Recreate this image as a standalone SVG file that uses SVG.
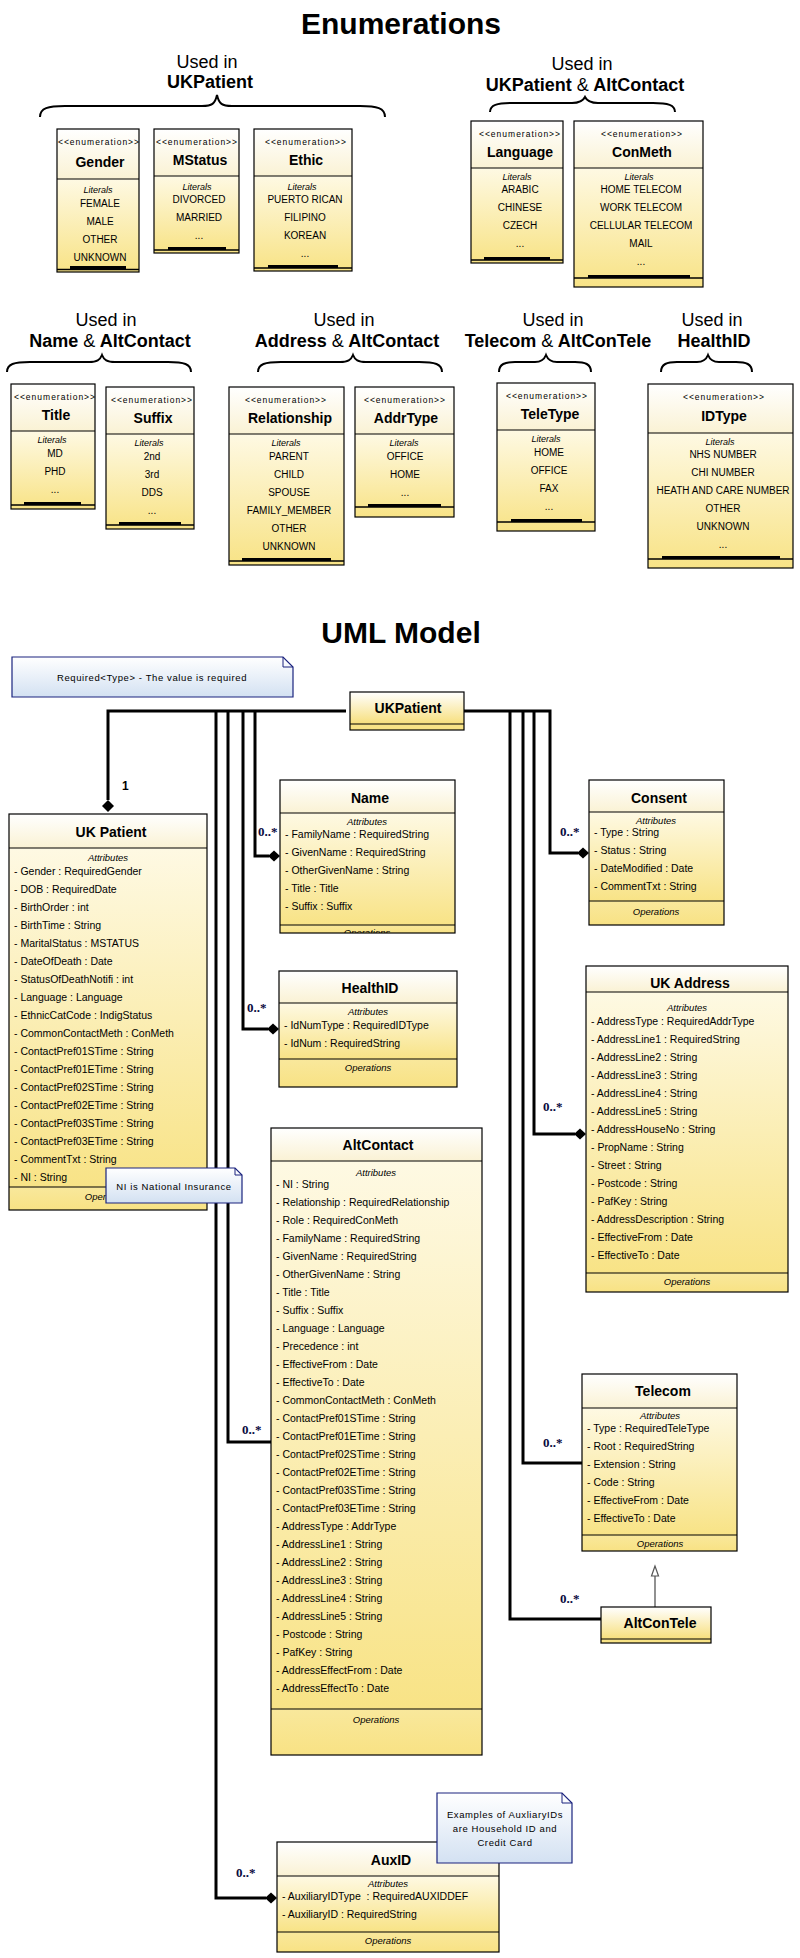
<svg xmlns="http://www.w3.org/2000/svg" width="800" height="1958" viewBox="0 0 800 1958">
<defs>
<linearGradient id="hdr" x1="0" y1="0" x2="0" y2="1"><stop offset="0" stop-color="#FFFFFF"/><stop offset="1" stop-color="#FAF2D4"/></linearGradient>
<linearGradient id="body" x1="0" y1="0" x2="0" y2="1"><stop offset="0" stop-color="#FEF9E3"/><stop offset="1" stop-color="#F8E386"/></linearGradient>
<linearGradient id="ops" x1="0" y1="0" x2="0" y2="1"><stop offset="0" stop-color="#F9E89C"/><stop offset="1" stop-color="#F8E284"/></linearGradient>
<linearGradient id="hdrY" x1="0" y1="0" x2="0" y2="1"><stop offset="0" stop-color="#FFFFFF"/><stop offset="1" stop-color="#F7DF7C"/></linearGradient>
<linearGradient id="note" x1="0" y1="0" x2="0" y2="1"><stop offset="0" stop-color="#FFFFFF"/><stop offset="1" stop-color="#D3E1F2"/></linearGradient>
<clipPath id="clipName"><rect x="280" y="780" width="175" height="153"/></clipPath>
<style>
.f{font-family:"Liberation Sans",Arial,sans-serif;fill:#000}
.ttl{font-size:30px;font-weight:bold;text-anchor:middle}
.used{font-size:18px;text-anchor:middle}
.usedb{font-size:18px;font-weight:bold;text-anchor:middle}
.brace{fill:none;stroke:#000;stroke-width:2}
.ol{fill:none;stroke:#000;stroke-width:1.2}
.sl{stroke:#000;stroke-width:1.2}
.ln{stroke:#000;stroke-width:1.5}
.st{font-size:8.5px;letter-spacing:1px;text-anchor:middle}
.en{font-size:14px;font-weight:bold;text-anchor:middle}
.lh{font-size:9px;font-style:italic;text-anchor:middle}
.li{font-size:10px;text-anchor:middle}
.cn{font-size:14px;font-weight:bold;text-anchor:middle}
.at{font-size:10.5px}
.cap{font-size:9.5px;font-style:italic;text-anchor:middle}
.conn{fill:none;stroke:#000;stroke-width:3}
.dia{fill:#000}
.mult{font-family:"Liberation Serif","Times New Roman",serif;font-weight:bold;font-size:13px;fill:#0a0a40}
.nt{fill:url(#note);stroke:#1a237e;stroke-width:1.2}
.ntx{font-size:9.5px;letter-spacing:0.6px;text-anchor:middle}
</style>
</defs>
<rect width="800" height="1958" fill="#FFFFFF"/>

<text class="f ttl" x="401" y="34">Enumerations</text>

<g id="labels">
<text class="f used" x="207" y="68">Used in</text>
<text class="f usedb" x="210" y="88">UKPatient</text>
<path class="brace" d="M40,117 C40,108 48,106 65,106 L202,106 C212,106 215,104 217,95 C219,104 222,106 232,106 L360,106 C377,106 385,108 385,117"/>
<text class="f used" x="582" y="70">Used in</text>
<text class="f usedb" x="585" y="91">UKPatient <tspan font-weight="normal">&amp;</tspan> AltContact</text>
<path class="brace" d="M490,112 C490,105 497,103 512,103 L572,103 C580,103 583,101 585,97 C587,101 590,103 598,103 L653,103 C668,103 675,105 675,112"/>
<text class="f used" x="106" y="326">Used in</text>
<text class="f usedb" x="110" y="347">Name <tspan font-weight="normal">&amp;</tspan> AltContact</text>
<path class="brace" d="M7,372 C7,364 14,362 30,362 L89,362 C97,362 100,360 102,355 C104,360 107,362 115,362 L168,362 C184,362 191,364 191,372"/>
<text class="f used" x="344" y="326">Used in</text>
<text class="f usedb" x="347" y="347">Address <tspan font-weight="normal">&amp;</tspan> AltContact</text>
<path class="brace" d="M258,372 C258,364 265,362 281,362 L340,362 C348,362 351,360 353,355 C355,360 358,362 366,362 L419,362 C435,362 442,364 442,372"/>
<text class="f used" x="553" y="326">Used in</text>
<text class="f usedb" x="558" y="347">Telecom <tspan font-weight="normal">&amp;</tspan> AltConTele</text>
<path class="brace" d="M499,372 C499,364 505,362 515,362 L535,362 C541,362 544,360 546,355 C548,360 551,362 557,362 L575,362 C585,362 591,364 591,372"/>
<text class="f used" x="712" y="326">Used in</text>
<text class="f usedb" x="714" y="347">HealthID</text>
<path class="brace" d="M661,372 C661,364 667,362 677,362 L697,362 C703,362 706,360 708,355 C710,360 713,362 719,362 L736,362 C746,362 752,364 752,372"/>
</g>

<g id="enum-gender">
<rect x="57" y="129" width="82" height="50" fill="url(#hdr)"/>
<rect x="57" y="179" width="82" height="93" fill="url(#body)"/>
<rect class="ol" x="57" y="129" width="82" height="143"/>
<line class="sl" x1="57" y1="179" x2="139" y2="179"/>
<rect x="70" y="266" width="56" height="3"/>
<line class="ln" x1="57" y1="269.5" x2="139" y2="269.5"/>
<text class="f st" x="99" y="145">&lt;&lt;enumeration&gt;&gt;</text>
<text class="f en" x="100" y="167">Gender</text>
<text class="f lh" x="98" y="193">Literals</text>
<text class="f li" x="100" y="207">FEMALE</text>
<text class="f li" x="100" y="225">MALE</text>
<text class="f li" x="100" y="243">OTHER</text>
<text class="f li" x="100" y="261">UNKNOWN</text>
</g>

<g id="enum-mstatus">
<rect x="154" y="129" width="85" height="47" fill="url(#hdr)"/>
<rect x="154" y="176" width="85" height="77" fill="url(#body)"/>
<rect class="ol" x="154" y="129" width="85" height="124"/>
<line class="sl" x1="154" y1="176" x2="239" y2="176"/>
<rect x="168" y="247" width="58" height="3"/>
<line class="ln" x1="154" y1="250" x2="239" y2="250"/>
<text class="f st" x="197" y="145">&lt;&lt;enumeration&gt;&gt;</text>
<text class="f en" x="200" y="165">MStatus</text>
<text class="f lh" x="197" y="190">Literals</text>
<text class="f li" x="199" y="203">DIVORCED</text>
<text class="f li" x="199" y="221">MARRIED</text>
<text class="f li" x="199" y="239">...</text>
</g>

<g id="enum-ethic">
<rect x="254" y="129" width="98" height="47" fill="url(#hdr)"/>
<rect x="254" y="176" width="98" height="95" fill="url(#body)"/>
<rect class="ol" x="254" y="129" width="98" height="142"/>
<line class="sl" x1="254" y1="176" x2="352" y2="176"/>
<rect x="268" y="265" width="70" height="3"/>
<line class="ln" x1="254" y1="268" x2="352" y2="268"/>
<text class="f st" x="306" y="145">&lt;&lt;enumeration&gt;&gt;</text>
<text class="f en" x="306" y="165">Ethic</text>
<text class="f lh" x="302" y="190">Literals</text>
<text class="f li" x="305" y="203">PUERTO RICAN</text>
<text class="f li" x="305" y="221">FILIPINO</text>
<text class="f li" x="305" y="239">KOREAN</text>
<text class="f li" x="305" y="257">...</text>
</g>

<g id="enum-language">
<rect x="471" y="121" width="92" height="47" fill="url(#hdr)"/>
<rect x="471" y="168" width="92" height="95" fill="url(#body)"/>
<rect class="ol" x="471" y="121" width="92" height="142"/>
<line class="sl" x1="471" y1="168" x2="563" y2="168"/>
<rect x="484" y="257" width="66" height="3"/>
<line class="ln" x1="471" y1="260" x2="563" y2="260"/>
<text class="f st" x="520" y="137">&lt;&lt;enumeration&gt;&gt;</text>
<text class="f en" x="520" y="157">Language</text>
<text class="f lh" x="517" y="180">Literals</text>
<text class="f li" x="520" y="193">ARABIC</text>
<text class="f li" x="520" y="211">CHINESE</text>
<text class="f li" x="520" y="229">CZECH</text>
<text class="f li" x="520" y="247">...</text>
</g>

<g id="enum-conmeth">
<rect x="574" y="121" width="129" height="47" fill="url(#hdr)"/>
<rect x="574" y="168" width="129" height="119" fill="url(#body)"/>
<rect class="ol" x="574" y="121" width="129" height="166"/>
<line class="sl" x1="574" y1="168" x2="703" y2="168"/>
<rect x="588" y="275" width="102" height="3"/>
<line class="ln" x1="574" y1="278" x2="703" y2="278"/>
<text class="f st" x="642" y="137">&lt;&lt;enumeration&gt;&gt;</text>
<text class="f en" x="642" y="157">ConMeth</text>
<text class="f lh" x="639" y="180">Literals</text>
<text class="f li" x="641" y="193">HOME TELECOM</text>
<text class="f li" x="641" y="211">WORK TELECOM</text>
<text class="f li" x="641" y="229">CELLULAR TELECOM</text>
<text class="f li" x="641" y="247">MAIL</text>
<text class="f li" x="641" y="265">...</text>
</g>

<g id="enum-title">
<rect x="11" y="384" width="84" height="47" fill="url(#hdr)"/>
<rect x="11" y="431" width="84" height="78" fill="url(#body)"/>
<rect class="ol" x="11" y="384" width="84" height="125"/>
<line class="sl" x1="11" y1="431" x2="95" y2="431"/>
<rect x="24" y="502" width="57" height="3"/>
<line class="ln" x1="11" y1="505" x2="95" y2="505"/>
<text class="f st" x="55" y="400">&lt;&lt;enumeration&gt;&gt;</text>
<text class="f en" x="56" y="420">Title</text>
<text class="f lh" x="52" y="443">Literals</text>
<text class="f li" x="55" y="457">MD</text>
<text class="f li" x="55" y="475">PHD</text>
<text class="f li" x="55" y="493">...</text>
</g>

<g id="enum-suffix">
<rect x="106" y="387" width="88" height="47" fill="url(#hdr)"/>
<rect x="106" y="434" width="88" height="95" fill="url(#body)"/>
<rect class="ol" x="106" y="387" width="88" height="142"/>
<line class="sl" x1="106" y1="434" x2="194" y2="434"/>
<rect x="119" y="522" width="62" height="3"/>
<line class="ln" x1="106" y1="525" x2="194" y2="525"/>
<text class="f st" x="152" y="403">&lt;&lt;enumeration&gt;&gt;</text>
<text class="f en" x="153" y="423">Suffix</text>
<text class="f lh" x="149" y="446">Literals</text>
<text class="f li" x="152" y="460">2nd</text>
<text class="f li" x="152" y="478">3rd</text>
<text class="f li" x="152" y="496">DDS</text>
<text class="f li" x="152" y="514">...</text>
</g>

<g id="enum-relationship">
<rect x="229" y="387" width="115" height="47" fill="url(#hdr)"/>
<rect x="229" y="434" width="115" height="131" fill="url(#body)"/>
<rect class="ol" x="229" y="387" width="115" height="178"/>
<line class="sl" x1="229" y1="434" x2="344" y2="434"/>
<rect x="242" y="558" width="89" height="3"/>
<line class="ln" x1="229" y1="561" x2="344" y2="561"/>
<text class="f st" x="286" y="403">&lt;&lt;enumeration&gt;&gt;</text>
<text class="f en" x="290" y="423">Relationship</text>
<text class="f lh" x="286" y="446">Literals</text>
<text class="f li" x="289" y="460">PARENT</text>
<text class="f li" x="289" y="478">CHILD</text>
<text class="f li" x="289" y="496">SPOUSE</text>
<text class="f li" x="289" y="514">FAMILY_MEMBER</text>
<text class="f li" x="289" y="532">OTHER</text>
<text class="f li" x="289" y="550">UNKNOWN</text>
</g>

<g id="enum-addrtype">
<rect x="355" y="387" width="99" height="47" fill="url(#hdr)"/>
<rect x="355" y="434" width="99" height="83" fill="url(#body)"/>
<rect class="ol" x="355" y="387" width="99" height="130"/>
<line class="sl" x1="355" y1="434" x2="454" y2="434"/>
<rect x="368" y="504" width="73" height="3"/>
<line class="ln" x1="355" y1="507" x2="454" y2="507"/>
<text class="f st" x="405" y="403">&lt;&lt;enumeration&gt;&gt;</text>
<text class="f en" x="406" y="423">AddrType</text>
<text class="f lh" x="404" y="446">Literals</text>
<text class="f li" x="405" y="460">OFFICE</text>
<text class="f li" x="405" y="478">HOME</text>
<text class="f li" x="405" y="496">...</text>
</g>

<g id="enum-teletype">
<rect x="497" y="383" width="98" height="47" fill="url(#hdr)"/>
<rect x="497" y="430" width="98" height="101" fill="url(#body)"/>
<rect class="ol" x="497" y="383" width="98" height="148"/>
<line class="sl" x1="497" y1="430" x2="595" y2="430"/>
<rect x="511" y="519" width="71" height="3"/>
<line class="ln" x1="497" y1="522" x2="595" y2="522"/>
<text class="f st" x="547" y="399">&lt;&lt;enumeration&gt;&gt;</text>
<text class="f en" x="550" y="419">TeleType</text>
<text class="f lh" x="546" y="442">Literals</text>
<text class="f li" x="549" y="456">HOME</text>
<text class="f li" x="549" y="474">OFFICE</text>
<text class="f li" x="549" y="492">FAX</text>
<text class="f li" x="549" y="510">...</text>
</g>

<g id="enum-idtype">
<rect x="648" y="384" width="145" height="49" fill="url(#hdr)"/>
<rect x="648" y="433" width="145" height="135" fill="url(#body)"/>
<rect class="ol" x="648" y="384" width="145" height="184"/>
<line class="sl" x1="648" y1="433" x2="793" y2="433"/>
<rect x="662" y="556" width="118" height="3"/>
<line class="ln" x1="648" y1="559" x2="793" y2="559"/>
<text class="f st" x="724" y="400">&lt;&lt;enumeration&gt;&gt;</text>
<text class="f en" x="724" y="421">IDType</text>
<text class="f lh" x="720" y="445">Literals</text>
<text class="f li" x="723" y="458">NHS NUMBER</text>
<text class="f li" x="723" y="476">CHI NUMBER</text>
<text class="f li" x="723" y="494">HEATH AND CARE NUMBER</text>
<text class="f li" x="723" y="512">OTHER</text>
<text class="f li" x="723" y="530">UNKNOWN</text>
<text class="f li" x="723" y="548">...</text>
</g>

<text class="f ttl" x="401" y="643">UML Model</text>

<g id="note-required">
<path class="nt" d="M12,657 H283 L293,667 V697 H12 Z"/>
<path d="M283,657 V667 H293" fill="none" stroke="#1a237e" stroke-width="1"/>
<text class="f ntx" x="152" y="681">Required&lt;Type&gt; - The value is required</text>
</g>

<g id="connectors">
<path class="conn" d="M346,711 H108 V800"/>
<path class="conn" d="M216,711 V1898 H266"/>
<path class="conn" d="M228,711 V1442 H271"/>
<path class="conn" d="M243,711 V1029 H268"/>
<path class="conn" d="M255,711 V856 H269"/>
<path class="conn" d="M464,711 H550 V853 H578"/>
<path class="conn" d="M534,711 V1134 H575"/>
<path class="conn" d="M523,711 V1463 H582"/>
<path class="conn" d="M510,711 V1619 H601"/>
<polygon class="dia" points="108,812 114,806 108,800 102,806"/>
<polygon class="dia" points="280,856 274,850.5 268,856 274,861.5"/>
<polygon class="dia" points="279,1029 273,1023.5 267,1029 273,1034.5"/>
<polygon class="dia" points="589,853 583,847.5 577,853 583,858.5"/>
<polygon class="dia" points="586,1134 580,1128.5 574,1134 580,1139.5"/>
<polygon class="dia" points="277,1898 271,1892.5 265,1898 271,1903.5"/>
<path d="M655,1607 V1576" fill="none" stroke="#555" stroke-width="1.3"/>
<polygon points="655,1566 651.5,1576 658.5,1576" fill="#FFFFFF" stroke="#555" stroke-width="1.2"/>
<text class="f" x="122" y="790" font-size="12" font-weight="bold" fill="#0a0a40">1</text>
<text class="mult" x="258" y="836">0..*</text>
<text class="mult" x="560" y="836">0..*</text>
<text class="mult" x="247" y="1012">0..*</text>
<text class="mult" x="543" y="1111">0..*</text>
<text class="mult" x="242" y="1434">0..*</text>
<text class="mult" x="543" y="1447">0..*</text>
<text class="mult" x="560" y="1603">0..*</text>
<text class="mult" x="236" y="1877">0..*</text>
</g>

<g id="class-ukpatient-ref">
<rect x="350" y="692" width="114" height="32" fill="url(#hdrY)"/>
<rect x="350" y="724" width="114" height="6" fill="#F8E386"/>
<rect class="ol" x="350" y="692" width="114" height="38"/>
<line class="sl" x1="350" y1="724" x2="464" y2="724"/>
<text class="f cn" x="408" y="713">UKPatient</text>
</g>

<g id="class-ukpatient">
<rect x="9" y="814" width="198" height="34" fill="url(#hdr)"/>
<rect x="9" y="848" width="198" height="339" fill="url(#body)"/>
<rect x="9" y="1187" width="198" height="23" fill="url(#ops)"/>
<rect class="ol" x="9" y="814" width="198" height="396"/>
<line class="sl" x1="9" y1="848" x2="207" y2="848"/>
<line class="sl" x1="9" y1="1187" x2="207" y2="1187"/>
<text class="f cn" x="111" y="837">UK Patient</text>
<text class="f cap" x="108" y="861">Attributes</text>
<text class="f at" x="14" y="875"><tspan x="14" dy="0">- Gender : RequiredGender</tspan><tspan x="14" dy="18">- DOB : RequiredDate</tspan><tspan x="14" dy="18">- BirthOrder : int</tspan><tspan x="14" dy="18">- BirthTime : String</tspan><tspan x="14" dy="18">- MaritalStatus : MSTATUS</tspan><tspan x="14" dy="18">- DateOfDeath : Date</tspan><tspan x="14" dy="18">- StatusOfDeathNotifi : int</tspan><tspan x="14" dy="18">- Language : Language</tspan><tspan x="14" dy="18">- EthnicCatCode : IndigStatus</tspan><tspan x="14" dy="18">- CommonContactMeth : ConMeth</tspan><tspan x="14" dy="18">- ContactPref01STime : String</tspan><tspan x="14" dy="18">- ContactPref01ETime : String</tspan><tspan x="14" dy="18">- ContactPref02STime : String</tspan><tspan x="14" dy="18">- ContactPref02ETime : String</tspan><tspan x="14" dy="18">- ContactPref03STime : String</tspan><tspan x="14" dy="18">- ContactPref03ETime : String</tspan><tspan x="14" dy="18">- CommentTxt : String</tspan><tspan x="14" dy="18">- NI : String</tspan></text>
<text class="f cap" x="108" y="1200">Operations</text>
</g>

<g id="class-name">
<rect x="280" y="780" width="175" height="33" fill="url(#hdr)"/>
<rect x="280" y="813" width="175" height="112" fill="url(#body)"/>
<rect x="280" y="925" width="175" height="8" fill="url(#ops)"/>
<rect class="ol" x="280" y="780" width="175" height="153"/>
<line class="sl" x1="280" y1="813" x2="455" y2="813"/>
<line class="sl" x1="280" y1="925" x2="455" y2="925"/>
<text class="f cn" x="370" y="803">Name</text>
<text class="f cap" x="367" y="825">Attributes</text>
<text class="f at" x="285" y="838"><tspan x="285" dy="0">- FamilyName : RequiredString</tspan><tspan x="285" dy="18">- GivenName : RequiredString</tspan><tspan x="285" dy="18">- OtherGivenName : String</tspan><tspan x="285" dy="18">- Title : Title</tspan><tspan x="285" dy="18">- Suffix : Suffix</tspan></text>
<text class="f cap" x="367" y="936" clip-path="url(#clipName)">Operations</text>
</g>

<g id="class-consent">
<rect x="589" y="780" width="135" height="32" fill="url(#hdr)"/>
<rect x="589" y="812" width="135" height="89" fill="url(#body)"/>
<rect x="589" y="901" width="135" height="24" fill="url(#ops)"/>
<rect class="ol" x="589" y="780" width="135" height="145"/>
<line class="sl" x1="589" y1="812" x2="724" y2="812"/>
<line class="sl" x1="589" y1="901" x2="724" y2="901"/>
<text class="f cn" x="659" y="803">Consent</text>
<text class="f cap" x="656" y="824">Attributes</text>
<text class="f at" x="594" y="836"><tspan x="594" dy="0">- Type : String</tspan><tspan x="594" dy="18">- Status : String</tspan><tspan x="594" dy="18">- DateModified : Date</tspan><tspan x="594" dy="18">- CommentTxt : String</tspan></text>
<text class="f cap" x="656" y="915">Operations</text>
</g>

<g id="class-healthid">
<rect x="279" y="971" width="178" height="32" fill="url(#hdr)"/>
<rect x="279" y="1003" width="178" height="56" fill="url(#body)"/>
<rect x="279" y="1059" width="178" height="28" fill="url(#ops)"/>
<rect class="ol" x="279" y="971" width="178" height="116"/>
<line class="sl" x1="279" y1="1003" x2="457" y2="1003"/>
<line class="sl" x1="279" y1="1059" x2="457" y2="1059"/>
<text class="f cn" x="370" y="993">HealthID</text>
<text class="f cap" x="368" y="1015">Attributes</text>
<text class="f at" x="284" y="1029"><tspan x="284" dy="0">- IdNumType : RequiredIDType</tspan><tspan x="284" dy="18">- IdNum : RequiredString</tspan></text>
<text class="f cap" x="368" y="1071">Operations</text>
</g>

<g id="class-ukaddress">
<rect x="586" y="966" width="202" height="26" fill="url(#hdr)"/>
<rect x="586" y="992" width="202" height="281" fill="url(#body)"/>
<rect x="586" y="1273" width="202" height="19" fill="url(#ops)"/>
<rect class="ol" x="586" y="966" width="202" height="326"/>
<line class="sl" x1="586" y1="992" x2="788" y2="992"/>
<line class="sl" x1="586" y1="1273" x2="788" y2="1273"/>
<text class="f cn" x="690" y="988">UK Address</text>
<text class="f cap" x="687" y="1011">Attributes</text>
<text class="f at" x="591" y="1025"><tspan x="591" dy="0">- AddressType : RequiredAddrType</tspan><tspan x="591" dy="18">- AddressLine1 : RequiredString</tspan><tspan x="591" dy="18">- AddressLine2 : String</tspan><tspan x="591" dy="18">- AddressLine3 : String</tspan><tspan x="591" dy="18">- AddressLine4 : String</tspan><tspan x="591" dy="18">- AddressLine5 : String</tspan><tspan x="591" dy="18">- AddressHouseNo : String</tspan><tspan x="591" dy="18">- PropName : String</tspan><tspan x="591" dy="18">- Street : String</tspan><tspan x="591" dy="18">- Postcode : String</tspan><tspan x="591" dy="18">- PafKey : String</tspan><tspan x="591" dy="18">- AddressDescription : String</tspan><tspan x="591" dy="18">- EffectiveFrom : Date</tspan><tspan x="591" dy="18">- EffectiveTo : Date</tspan></text>
<text class="f cap" x="687" y="1285">Operations</text>
</g>

<g id="class-altcontact">
<rect x="271" y="1128" width="211" height="33" fill="url(#hdr)"/>
<rect x="271" y="1161" width="211" height="548" fill="url(#body)"/>
<rect x="271" y="1709" width="211" height="46" fill="url(#ops)"/>
<rect class="ol" x="271" y="1128" width="211" height="627"/>
<line class="sl" x1="271" y1="1161" x2="482" y2="1161"/>
<line class="sl" x1="271" y1="1709" x2="482" y2="1709"/>
<text class="f cn" x="378" y="1150">AltContact</text>
<text class="f cap" x="376" y="1176">Attributes</text>
<text class="f at" x="276" y="1188"><tspan x="276" dy="0">- NI : String</tspan><tspan x="276" dy="18">- Relationship : RequiredRelationship</tspan><tspan x="276" dy="18">- Role : RequiredConMeth</tspan><tspan x="276" dy="18">- FamilyName : RequiredString</tspan><tspan x="276" dy="18">- GivenName : RequiredString</tspan><tspan x="276" dy="18">- OtherGivenName : String</tspan><tspan x="276" dy="18">- Title : Title</tspan><tspan x="276" dy="18">- Suffix : Suffix</tspan><tspan x="276" dy="18">- Language : Language</tspan><tspan x="276" dy="18">- Precedence : int</tspan><tspan x="276" dy="18">- EffectiveFrom : Date</tspan><tspan x="276" dy="18">- EffectiveTo : Date</tspan><tspan x="276" dy="18">- CommonContactMeth : ConMeth</tspan><tspan x="276" dy="18">- ContactPref01STime : String</tspan><tspan x="276" dy="18">- ContactPref01ETime : String</tspan><tspan x="276" dy="18">- ContactPref02STime : String</tspan><tspan x="276" dy="18">- ContactPref02ETime : String</tspan><tspan x="276" dy="18">- ContactPref03STime : String</tspan><tspan x="276" dy="18">- ContactPref03ETime : String</tspan><tspan x="276" dy="18">- AddressType : AddrType</tspan><tspan x="276" dy="18">- AddressLine1 : String</tspan><tspan x="276" dy="18">- AddressLine2 : String</tspan><tspan x="276" dy="18">- AddressLine3 : String</tspan><tspan x="276" dy="18">- AddressLine4 : String</tspan><tspan x="276" dy="18">- AddressLine5 : String</tspan><tspan x="276" dy="18">- Postcode : String</tspan><tspan x="276" dy="18">- PafKey : String</tspan><tspan x="276" dy="18">- AddressEffectFrom : Date</tspan><tspan x="276" dy="18">- AddressEffectTo : Date</tspan></text>
<text class="f cap" x="376" y="1723">Operations</text>
</g>

<g id="class-telecom">
<rect x="582" y="1374" width="155" height="34" fill="url(#hdr)"/>
<rect x="582" y="1408" width="155" height="127" fill="url(#body)"/>
<rect x="582" y="1535" width="155" height="16" fill="url(#ops)"/>
<rect class="ol" x="582" y="1374" width="155" height="177"/>
<line class="sl" x1="582" y1="1408" x2="737" y2="1408"/>
<line class="sl" x1="582" y1="1535" x2="737" y2="1535"/>
<text class="f cn" x="663" y="1396">Telecom</text>
<text class="f cap" x="660" y="1419">Attributes</text>
<text class="f at" x="587" y="1432"><tspan x="587" dy="0">- Type : RequiredTeleType</tspan><tspan x="587" dy="18">- Root : RequiredString</tspan><tspan x="587" dy="18">- Extension : String</tspan><tspan x="587" dy="18">- Code : String</tspan><tspan x="587" dy="18">- EffectiveFrom : Date</tspan><tspan x="587" dy="18">- EffectiveTo : Date</tspan></text>
<text class="f cap" x="660" y="1547">Operations</text>
</g>

<g id="class-altcontele">
<rect x="601" y="1607" width="110" height="32" fill="url(#hdrY)"/>
<rect x="601" y="1639" width="110" height="4" fill="#F8E386"/>
<rect class="ol" x="601" y="1607" width="110" height="36"/>
<line class="sl" x1="601" y1="1639" x2="711" y2="1639"/>
<text class="f cn" x="660" y="1628">AltConTele</text>
</g>

<g id="class-auxid">
<rect x="277" y="1842" width="222" height="34" fill="url(#hdr)"/>
<rect x="277" y="1876" width="222" height="56" fill="url(#body)"/>
<rect x="277" y="1932" width="222" height="20" fill="url(#ops)"/>
<rect class="ol" x="277" y="1842" width="222" height="110"/>
<line class="sl" x1="277" y1="1876" x2="499" y2="1876"/>
<line class="sl" x1="277" y1="1932" x2="499" y2="1932"/>
<text class="f cn" x="391" y="1865">AuxID</text>
<text class="f cap" x="388" y="1887">Attributes</text>
<text class="f at" x="282" y="1900"><tspan x="282" dy="0">- AuxiliaryIDType&#160; : RequiredAUXIDDEF</tspan><tspan x="282" dy="18">- AuxiliaryID : RequiredString</tspan></text>
<text class="f cap" x="388" y="1944">Operations</text>
</g>

<g id="note-ni">
<path class="nt" d="M106,1168 H235 L242,1175 V1203 H106 Z"/>
<path d="M235,1168 V1175 H242" fill="none" stroke="#1a237e" stroke-width="1"/>
<text class="f ntx" x="174" y="1190">NI is National Insurance</text>
</g>

<g id="note-auxid">
<path class="nt" d="M437,1793 H562 L572,1803 V1863 H437 Z"/>
<path d="M562,1793 V1803 H572" fill="none" stroke="#1a237e" stroke-width="1"/>
<text class="f ntx" x="505" y="1818">Examples of AuxliaryIDs</text>
<text class="f ntx" x="505" y="1832">are Household ID and</text>
<text class="f ntx" x="505" y="1846">Credit Card</text>
</g>
</svg>
